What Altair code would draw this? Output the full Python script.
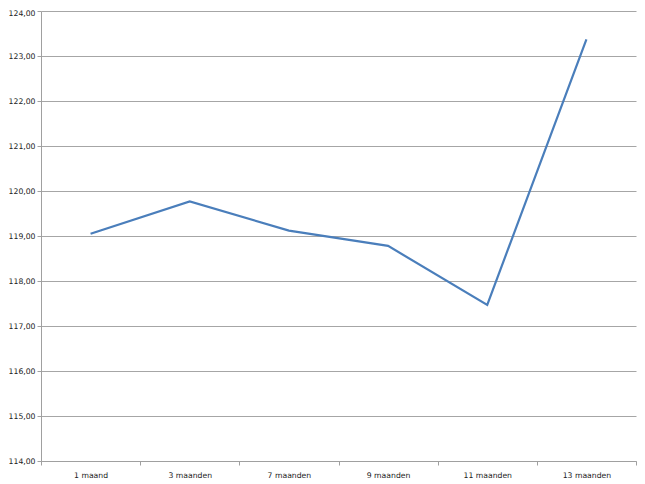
import altair as alt
import pandas as pd

categories = ["1 maand", "3 maanden", "7 maanden", "9 maanden", "11 maanden", "13 maanden"]
values = [119.05, 119.77, 119.12, 118.78, 117.47, 123.37]

df = pd.DataFrame({"cat": categories, "val": values})

chart = alt.Chart(df).mark_line(color="#4A7EBB", strokeWidth=2.2).encode(
    x=alt.X("cat:N", sort=categories, title=None,
            scale=alt.Scale(type="band", paddingInner=0, paddingOuter=0),
            axis=alt.Axis(labelAngle=0, tickBand="extent", grid=False,
                          domainColor="#A0A0A0", tickColor="#A0A0A0", tickSize=4,
                          labelPadding=6)),
    y=alt.Y("val:Q", title=None,
            scale=alt.Scale(domain=[114, 124], nice=False, zero=False),
            axis=alt.Axis(values=list(range(114, 125)),
                          labelExpr="replace(format(datum.value, '.2f'), '.', ',')",
                          labelOffset={"condition": {"test": "datum.value == 124", "value": 2}, "value": 0},
                          gridColor="#A6A6A6", domainColor="#A0A0A0",
                          tickColor="#A0A0A0", tickSize=4, labelPadding=2)),
).properties(
    width=595, height=450, autosize="none",
    padding={"left": 33, "top": 3, "right": 1, "bottom": 23},
).configure_view(stroke=None).configure_axis(
    labelFont="DejaVu Sans", labelFontSize=7.7, labelColor="#222222",
    gridWidth=1, domainWidth=1,
)

chart.save("out.html", embed_options={"renderer": "svg", "actions": False})
